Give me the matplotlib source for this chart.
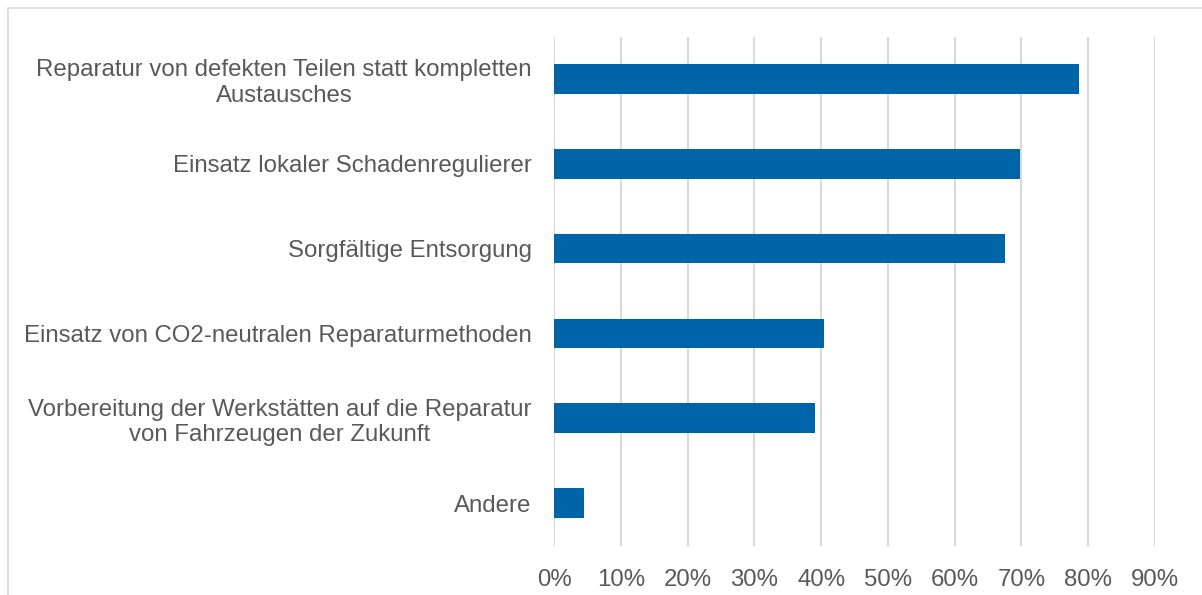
import matplotlib.pyplot as plt
from matplotlib.patches import Rectangle
from matplotlib.ticker import PercentFormatter

plt.rcParams['font.family'] = ['Liberation Sans', 'DejaVu Sans']

labels = ["Reparatur von defekten Teilen statt kompletten\nAustausches",
          "Einsatz lokaler Schadenregulierer",
          "Sorgfältige Entsorgung",
          "Einsatz von CO2-neutralen Reparaturmethoden",
          "Vorbereitung der Werkstätten auf die Reparatur\nvon Fahrzeugen der Zukunft",
          "Andere"]
values = [78.6, 69.8, 67.5, 40.4, 39.1, 4.5]
xticks = [0, 10, 20, 30, 40, 50, 60, 70, 80, 90]

fig = plt.figure(figsize=(12.02, 5.95), dpi=100)
ax = fig.add_axes([554/1202, 1 - 545.5/595, (1155-554)/1202, (545.5-36.5)/595])

y = list(range(len(labels)))
ax.barh(y, values, height=0.35, color='#0064A8', zorder=3)
ax.set_ylim(len(labels) - 0.5, -0.5)
ax.set_xlim(0, 90)
ax.set_xticks(xticks)
ax.xaxis.set_major_formatter(PercentFormatter(decimals=0))
ax.set_yticks(y)
ax.set_yticklabels(labels, multialignment='center')
ax.grid(axis='x', color='#D9D9D9', linewidth=1.5, zorder=0)
for s in ax.spines.values():
    s.set_visible(False)
ax.tick_params(axis='both', length=0, labelsize=17.3, colors='#595959')
ax.tick_params(axis='y', pad=16)
ax.tick_params(axis='x', pad=17)

fig.patches.append(Rectangle((8/1202, -0.1), 1.1, 1 - 8/595 + 0.1, transform=fig.transFigure,
                             fill=False, edgecolor='#D9D9D9', linewidth=1.2))

fig.savefig('out.png', dpi=100)
